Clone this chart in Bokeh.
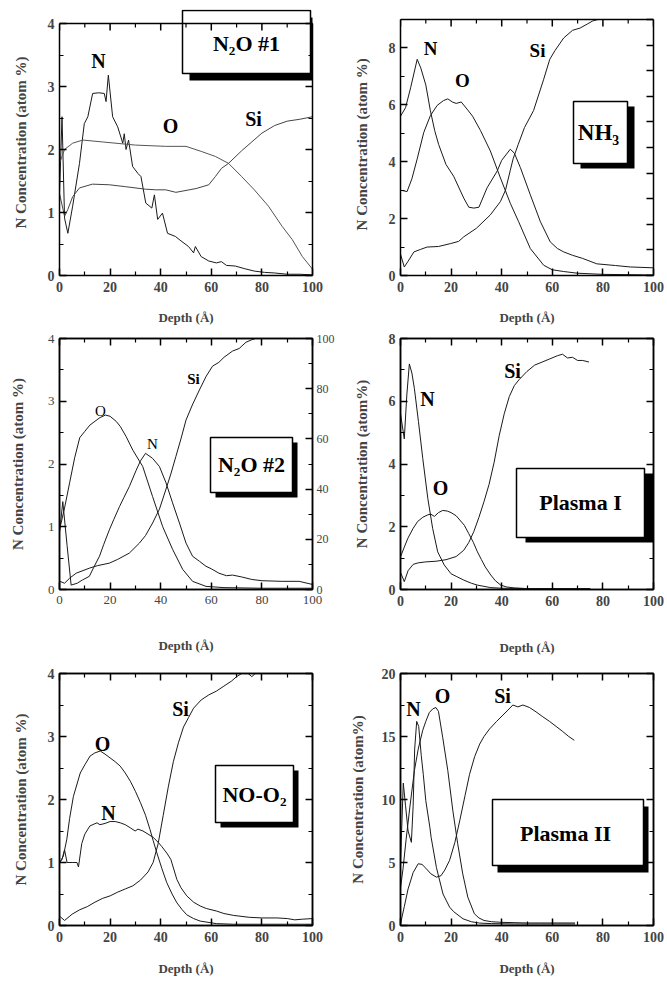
from bokeh.plotting import figure
from bokeh.models import Range1d, LinearAxis, FixedTicker, BoxAnnotation, Label, Span
from bokeh.layouts import column, row
from bokeh.embed import file_html
from bokeh.resources import INLINE

SERIF = "Liberation Serif"

# ---------------- data ----------------
depth_ticks = [0, 20, 40, 60, 80, 100]
depth_minor = [10, 30, 50, 70, 90]

# Panel 1: N2O #1  (y 0..4)
p1_n_x = [0, 1, 2, 3.3, 5.2, 7.9, 9.8, 11.2, 13.1, 15.5, 17.7, 18.4, 19.3, 21, 23, 25, 25.6, 26.3,
          27.3, 28.9, 31, 32.2, 34.1, 36.5, 37.5, 38.8, 40.7, 42.7, 45.8, 48, 51, 53, 53.7, 56, 59,
          62, 64, 66, 69.5, 73, 77, 81, 85, 90, 95, 100]
p1_n_y = [1.3, 2.52, 0.91, 0.67, 1.1, 1.78, 2.41, 2.52, 2.89, 2.9, 2.89, 2.76, 3.18, 2.52, 2.36, 2.1,
          2.25, 2.0, 2.15, 1.73, 1.62, 1.57, 1.15, 1.07, 1.28, 0.89, 0.99, 0.67, 0.62, 0.55, 0.46,
          0.36, 0.46, 0.3, 0.23, 0.2, 0.22, 0.16, 0.15, 0.11, 0.07, 0.05, 0.04, 0.02, 0.02, 0.01]
p1_o_x = [0, 2, 5.2, 9.2, 17, 30, 42, 50, 56, 61.6, 66.8, 72, 77, 82.6, 88, 92, 96, 100]
p1_o_y = [1.78, 2.0, 2.1, 2.15, 2.12, 2.07, 2.05, 2.05, 1.97, 1.89, 1.78, 1.57, 1.36, 1.1, 0.78,
          0.57, 0.3, 0.1]
p1_si_x = [0, 2, 3.3, 5.2, 7.9, 13, 19.7, 26, 34, 38, 42, 46, 50, 54, 59, 61.6, 64, 66.8, 72, 76,
           80, 85, 90, 95, 100]
p1_si_y = [1.3, 0.94, 1.05, 1.25, 1.39, 1.45, 1.44, 1.41, 1.37, 1.36, 1.36, 1.32, 1.35, 1.38, 1.44,
           1.57, 1.7, 1.78, 1.98, 2.12, 2.26, 2.38, 2.45, 2.48, 2.52]

# Panel 2: NH3  (y 0..9)
p2_n_x = [0, 2, 4, 6.6, 8, 10, 11.8, 13.5, 15.1, 18, 21, 25, 27, 29, 31, 34.2, 38.2, 40, 43.4, 45,
          47.4, 51.3, 55.3, 59.2, 62, 64.5, 68, 72, 77.6, 85, 90.8, 100]
p2_n_y = [5.6, 5.9, 6.6, 7.6, 7.3, 6.7, 5.8, 5.1, 4.6, 3.9, 3.49, 2.72, 2.4, 2.37, 2.4, 3.08, 3.67,
          4.05, 4.44, 4.3, 3.79, 2.84, 1.89, 1.18, 0.95, 0.83, 0.71, 0.6, 0.41, 0.35, 0.3, 0.27]
p2_o_x = [0, 2.6, 4.5, 6.6, 9.2, 11.8, 14.5, 17, 18.7, 20.5, 22, 24, 26.3, 28.5, 31.6, 35.5, 39.5,
          43.4, 46.7, 51.3, 56.6, 60, 64.5, 70, 80, 100]
p2_o_y = [3.0, 2.95, 3.4, 4.1, 5.03, 5.62, 5.98, 6.15, 6.21, 6.1, 6.05, 6.1, 5.85, 5.6, 5.1, 4.38,
          3.43, 2.54, 1.89, 0.95, 0.36, 0.2, 0.14, 0.08, 0.04, 0.02]
p2_si_x = [0, 1.5, 3, 5.3, 8, 10.5, 15, 19.7, 23, 25, 30, 35.5, 39.5, 41.5, 43.4, 44.5, 46.5, 49,
           52.6, 56.6, 59, 61, 64.5, 68, 71, 74, 76, 78]
p2_si_y = [0.75, 0.3, 0.5, 0.83, 0.92, 1.0, 1.02, 1.12, 1.2, 1.36, 1.66, 2.13, 2.6, 3.0, 3.7, 4.1,
           4.6, 5.2, 5.8, 6.9, 7.6, 7.9, 8.35, 8.62, 8.7, 8.85, 8.95, 9.0]

# Panel 3: N2O #2  (left 0..4, Si on right 0..100)
p3_n_x = [0, 1.3, 3, 4.6, 7, 9, 11.8, 13.5, 15.8, 17.5, 19.7, 21.5, 23.7, 25.5, 27.6, 30.3, 32, 34,
          36.8, 39.5, 42.1, 44.7, 47.4, 50, 52.6, 55.3, 57.9, 60, 63, 66, 68.4, 72, 76, 80, 88,
          94.7, 100]
p3_n_y = [0.9, 1.4, 0.7, 0.07, 0.1, 0.15, 0.21, 0.35, 0.53, 0.72, 0.95, 1.12, 1.32, 1.47, 1.64, 1.9,
          2.05, 2.17, 2.09, 1.96, 1.7, 1.38, 1.06, 0.74, 0.53, 0.45, 0.37, 0.33, 0.26, 0.22, 0.23,
          0.2, 0.16, 0.14, 0.13, 0.13, 0.08]
p3_o_x = [0, 2, 4, 6, 8, 10, 12, 14, 16, 18.2, 20, 22.4, 24, 26.3, 29, 32.9, 36.8, 40.8, 44.7, 48.7,
          52.6, 57.9, 65, 80, 100]
p3_o_y = [0.95, 1.3, 1.7, 2.1, 2.42, 2.52, 2.62, 2.68, 2.74, 2.78, 2.76, 2.68, 2.6, 2.44, 2.22, 1.96,
          1.48, 1.0, 0.64, 0.32, 0.13, 0.05, 0.03, 0.02, 0.02]
p3_si_x = [0, 2, 4, 6.6, 11.8, 15, 19.7, 23, 27.6, 31.6, 34, 36.8, 39.5, 42.1, 44, 46, 48, 50,
           52.5, 55.3, 58, 60.5, 63, 65, 68.4, 71, 73.7, 76, 79, 85, 100]
p3_si_y = [3.3, 2.5, 4.5, 6.5, 8.5, 9.5, 10.5, 12, 14.5, 18.5, 21.5, 26.5, 32, 40, 46, 53, 60, 67.5,
           73.5, 79.5, 85, 89, 90.5, 92.5, 95, 96, 98.5, 99.5, 100.5, 101, 102]

# Panel 4: Plasma I  (y 0..8)
p4_n_x = [0, 1.5, 2.5, 3.5, 4.5, 5.5, 7.1, 8.8, 10.8, 12.7, 14.7, 17.3, 20, 22, 25, 28, 30.4, 33,
          35.7, 40, 50, 60, 75]
p4_n_y = [5.6, 4.8, 6.2, 7.19, 6.9, 6.4, 5.35, 4.18, 2.9, 1.95, 1.2, 0.78, 0.5, 0.42, 0.3, 0.2,
          0.14, 0.1, 0.06, 0.04, 0.03, 0.03, 0.02]
p4_o_x = [0, 1.5, 2.9, 5, 6.8, 8.8, 10.8, 12, 13.4, 15, 16.7, 18.5, 20, 22, 25.2, 27, 28.8, 30.4,
          32, 33.5, 35.7, 37.5, 39.6, 42, 45, 50, 60, 75]
p4_o_y = [1.04, 1.35, 1.63, 1.95, 2.17, 2.3, 2.38, 2.4, 2.33, 2.45, 2.52, 2.5, 2.45, 2.35, 2.05,
          1.78, 1.5, 1.2, 0.95, 0.72, 0.46, 0.28, 0.14, 0.08, 0.05, 0.03, 0.03, 0.03]
p4_si_x = [0, 1.5, 3, 5, 7, 10, 14, 18, 22, 25, 27, 29, 31, 33, 35, 37, 39, 41, 43, 45, 47, 50, 53,
           56, 59, 62, 64, 66, 68, 70, 72, 74.5]
p4_si_y = [0.55, 0.25, 0.6, 0.8, 0.85, 0.88, 0.9, 0.95, 1.05, 1.25, 1.5, 1.85, 2.3, 2.8, 3.35, 4.05,
           4.9, 5.6, 6.15, 6.5, 6.7, 6.95, 7.15, 7.25, 7.35, 7.45, 7.5, 7.38, 7.4, 7.3, 7.3, 7.25]

# Panel 5: NO-O2  (y 0..4)
p5_n_x = [0, 1, 2, 3, 5, 6.9, 7.5, 8.8, 10, 12, 14.8, 16, 18, 20, 22, 24, 26, 28, 29.9, 31, 33,
          35, 37, 39, 40.5, 42.4, 44, 46.4, 48, 50.3, 53, 55.6, 58, 62, 65, 68.8, 75, 80, 86, 90,
          93, 96, 100]
p5_n_y = [1.0, 1.05, 1.2, 1.0, 1.0, 1.0, 0.93, 1.3, 1.45, 1.58, 1.63, 1.6, 1.62, 1.65, 1.65, 1.63,
          1.6, 1.55, 1.5, 1.53, 1.5, 1.45, 1.4, 1.32, 1.25, 1.15, 1.05, 0.73, 0.6, 0.47, 0.37, 0.31,
          0.27, 0.23, 0.19, 0.16, 0.13, 0.12, 0.12, 0.11, 0.09, 0.1, 0.11]
p5_o_x = [0, 1.5, 2.9, 4, 5.5, 8.2, 10, 12.1, 14, 16.1, 18, 20, 22, 24, 26, 28, 30, 32, 34, 35.8,
          37, 38.5, 40.5, 42.4, 44.5, 46.4, 48.5, 50.3, 53, 55.6, 62, 68.8, 80, 100]
p5_o_y = [0.99, 1.1, 1.37, 1.7, 2.05, 2.42, 2.55, 2.69, 2.74, 2.77, 2.72, 2.66, 2.6, 2.53, 2.42,
          2.29, 2.13, 1.95, 1.75, 1.52, 1.35, 1.15, 0.9, 0.68, 0.5, 0.36, 0.25, 0.17, 0.11, 0.07,
          0.03, 0.02, 0.02, 0.02]
p5_si_x = [0, 2, 5, 8, 11, 14, 17, 20, 23, 26, 29, 32, 35, 37, 39, 41, 43, 45, 47, 49, 51, 53, 56,
           59, 62, 65, 68, 70, 72, 74, 76, 78, 80, 90, 100]
p5_si_y = [0.15, 0.08, 0.18, 0.25, 0.3, 0.37, 0.43, 0.47, 0.53, 0.58, 0.63, 0.72, 0.85, 1.0, 1.3,
           1.75, 2.2, 2.6, 2.9, 3.15, 3.3, 3.45, 3.58, 3.66, 3.72, 3.8, 3.88, 3.95, 4.0, 4.02, 3.95,
           4.02, 4.08, 4.2, 4.25]

# Panel 6: Plasma II  (y 0..20)
p6_n_x = [0, 1.1, 2, 3, 4.3, 5, 5.6, 6.4, 7.2, 8.2, 9, 10, 11.6, 12.1, 14.2, 16.8, 19.4, 21, 24.7,
          28, 31.3, 36, 45, 55, 69]
p6_n_y = [5.0, 11.3, 9.5, 7.5, 6.6, 9.5, 14.0, 16.2, 15.8, 13.5, 12.0, 9.9, 7.8, 7.0, 4.6, 2.5,
          1.46, 1.1, 0.53, 0.3, 0.19, 0.15, 0.12, 0.12, 0.12]
p6_o_x = [0, 1, 2.2, 3.7, 5.5, 7, 8.8, 10, 11.4, 12.8, 14, 15, 16.7, 18.7, 20.7, 22.6, 24.6, 26.6,
          29.2, 31, 33, 36, 40, 50, 60, 69]
p6_o_y = [3.0, 4.5, 6.8, 9.4, 12.3, 14.0, 15.5, 16.2, 16.9, 17.2, 17.3, 17.0, 14.9, 12.3, 9.1, 6.5,
          4.1, 2.25, 0.93, 0.6, 0.4, 0.3, 0.25, 0.2, 0.2, 0.2]
p6_si_x = [0, 1.5, 3, 5, 7, 8.5, 10, 12, 14.2, 16, 17.5, 19.4, 21.5, 23.4, 25.5, 27.3, 29.3, 31.3,
           33, 35.2, 38, 40.5, 42.5, 44.4, 46.4, 48.4, 51, 53.6, 56, 58.9, 61.5, 64.1, 66.5, 68.7]
p6_si_y = [0.13, 1.5, 2.9, 4.2, 4.9, 4.85, 4.55, 4.1, 3.84, 3.95, 4.4, 5.17, 6.6, 8.3, 10.3, 12.0,
           13.4, 14.4, 15.0, 15.6, 16.2, 16.7, 17.1, 17.5, 17.35, 17.5, 17.3, 16.95, 16.6, 16.2,
           15.8, 15.4, 15.0, 14.7]

# ---------------- layout geometry (page pixels; page origin at 0,0) ----------------
# Plots in one row share top/bottom borders, plots in one column share left/right borders.
# "frame" = drawable area, "axis" = pixel rows of the plotted box (top, bottom).
GEOM = {
    "p1": dict(fig=(0, 0, 340, 328), frame=(59, 9, 312, 275), axis=(23, 275)),
    "p2": dict(fig=(340, 0, 325, 328), frame=(400, 9, 653, 275), axis=(19, 275)),
    "p3": dict(fig=(0, 328, 340, 330), frame=(59, 338, 312, 589), axis=(338, 589)),
    "p4": dict(fig=(340, 328, 325, 330), frame=(400, 338, 653, 589), axis=(338, 589)),
    "p5": dict(fig=(0, 658, 340, 321), frame=(59, 673, 312, 925), axis=(673, 925)),
    "p6": dict(fig=(340, 658, 325, 321), frame=(400, 673, 653, 925), axis=(673, 925)),
}
MAJOR_TICK_PX = 7
MINOR_TICK_PX = 4


def hide_labels(ax, ticks):
    ax.major_label_overrides = {t: "" for t in ticks}
    ax.major_label_text_font_size = "0px"
    ax.major_label_standoff = 0


def style_axis(ax, ticks, minor):
    ax.ticker = FixedTicker(ticks=ticks, minor_ticks=minor)
    ax.major_tick_in = MAJOR_TICK_PX
    ax.major_tick_out = 0
    ax.minor_tick_in = MINOR_TICK_PX
    ax.minor_tick_out = 0
    ax.axis_line_color = "black"
    ax.axis_line_width = 1.5
    ax.major_tick_line_color = "black"
    ax.major_tick_line_width = 1.5
    ax.minor_tick_line_color = "black"
    ax.minor_tick_line_width = 1.2


def stretch(key):
    """Ratio between the drawable frame height and the plotted box height."""
    l, t, r, b = GEOM[key]["frame"]
    at, ab = GEOM[key]["axis"]
    return (ab - t) / (ab - at)


def px_per_unit(key, ymax):
    at, ab = GEOM[key]["axis"]
    return (ab - at) / ymax


def make_panel(key, ymax, yticks, yminor, ytitle, ylab_so, xlab_so, tick_style="bold",
               tick_size="14px", right=None):
    g = GEOM[key]
    fx, fy, W, H = g["fig"]
    l, t, r, b = g["frame"]
    k = stretch(key)
    extended = k > 1 + 1e-9
    p = figure(width=W, height=H, x_range=Range1d(0, 100), y_range=Range1d(0, ymax * k),
               min_border_left=l - fx, min_border_right=fx + W - r,
               min_border_top=t - fy, min_border_bottom=fy + H - b,
               output_backend="svg", toolbar_location=None, tools="",
               outline_line_color=None if extended else "black", outline_line_width=1.5,
               background_fill_color="white", border_fill_color="white")
    p.xgrid.visible = False
    p.ygrid.visible = False

    xa = p.xaxis[0]
    style_axis(xa, depth_ticks, depth_minor)
    xa.axis_label = "Depth (Å)"
    xa.axis_label_text_font = SERIF
    xa.axis_label_text_font_style = "bold"
    xa.axis_label_text_font_size = "13px"
    xa.axis_label_standoff = xlab_so
    xa.major_label_text_font = SERIF
    xa.major_label_text_font_style = tick_style
    xa.major_label_text_font_size = tick_size
    xa.major_label_standoff = 6

    ya = p.yaxis[0]
    style_axis(ya, yticks, yminor)
    ya.axis_label = ytitle
    ya.axis_label_text_font = SERIF
    ya.axis_label_text_font_style = "bold"
    ya.axis_label_text_font_size = "15px"
    ya.axis_label_standoff = ylab_so
    ya.major_label_text_font = SERIF
    ya.major_label_text_font_style = tick_style
    ya.major_label_text_font_size = tick_size
    ya.major_label_standoff = 5
    if extended:
        ya.bounds = (0, ymax)

    if extended:
        # top border of the plotted box lies inside the (taller) frame
        p.add_layout(Span(location=ymax, dimension="width", line_color="black", line_width=1.5,
                          level="guide"))
        ppu = px_per_unit(key, ymax)
        p.segment(x0=depth_ticks, y0=[ymax] * len(depth_ticks), x1=depth_ticks,
                  y1=[ymax - MAJOR_TICK_PX / ppu] * len(depth_ticks),
                  line_color="black", line_width=1.5)
        p.segment(x0=depth_minor, y0=[ymax] * len(depth_minor), x1=depth_minor,
                  y1=[ymax - MINOR_TICK_PX / ppu] * len(depth_minor),
                  line_color="black", line_width=1.2)
    else:
        top = LinearAxis()
        style_axis(top, depth_ticks, depth_minor)
        hide_labels(top, depth_ticks)
        p.add_layout(top, "above")

    if right is None:
        ra = LinearAxis()
        style_axis(ra, yticks, yminor)
        hide_labels(ra, yticks)
        if extended:
            ra.bounds = (0, ymax)
    else:
        p.extra_y_ranges = {"r": Range1d(0, 100 * k)}
        rticks, rminor, show = right
        ra = LinearAxis(y_range_name="r")
        style_axis(ra, rticks, rminor)
        if extended:
            ra.bounds = (0, 100)
        if show:
            ra.major_label_text_font = SERIF
            ra.major_label_text_font_size = "12px"
            ra.major_label_standoff = 4
        else:
            hide_labels(ra, rticks)
    p.add_layout(ra, "right")
    return p


def to_data(key, ymax, px, py):
    l, t, r, b = GEOM[key]["frame"]
    at, ab = GEOM[key]["axis"]
    return (px - l) / (r - l) * 100.0, (ab - py) / (ab - at) * ymax


def add_box(p, key, ymax, box, shadow, text, center, size="22px", level="annotation"):
    x0, y0 = to_data(key, ymax, box[0], box[1])
    x1, y1 = to_data(key, ymax, box[2], box[3])
    sx0, sy0 = to_data(key, ymax, box[0] + shadow[0], box[1] + shadow[1])
    sx1, sy1 = to_data(key, ymax, box[2] + shadow[0], box[3] + shadow[1])
    p.add_layout(BoxAnnotation(left=sx0, right=sx1, top=sy0, bottom=sy1, fill_color="black",
                               fill_alpha=1.0, line_color=None, level=level))
    p.add_layout(BoxAnnotation(left=x0, right=x1, top=y0, bottom=y1, fill_color="white",
                               fill_alpha=1.0, line_color="black", line_alpha=1.0, line_width=1.5,
                               level=level))
    cx, cy = to_data(key, ymax, *center)
    p.add_layout(Label(x=cx, y=cy, text=text, text_font=SERIF, text_font_style="bold",
                       text_font_size=size, text_align="center", text_baseline="middle",
                       text_color="black"))


def add_tag(p, key, ymax, text, pos, size="20px", style="bold"):
    x, y = to_data(key, ymax, *pos)
    p.add_layout(Label(x=x, y=y, text=text, text_font=SERIF, text_font_style=style,
                       text_font_size=size, text_align="center", text_baseline="middle",
                       text_color="black"))


LC = "#1a1a1a"

# ---- Panel 1
p1 = make_panel("p1", 4, [0, 1, 2, 3, 4], [0.5, 1.5, 2.5, 3.5], "N Concentration (atom %)", 16, 15)
add_box(p1, "p1", 4, (182, 10, 310, 73), (7, 7), "N₂O #1", (246, 43), level="underlay")
p1.line(p1_n_x, p1_n_y, line_color=LC, line_width=1)
p1.line(p1_o_x, p1_o_y, line_color="#555555", line_width=1)
p1.line(p1_si_x, p1_si_y, line_color="#444444", line_width=1)
add_tag(p1, "p1", 4, "N", (98, 60))
add_tag(p1, "p1", 4, "O", (170, 125))
add_tag(p1, "p1", 4, "Si", (253, 118))

# ---- Panel 2
p2 = make_panel("p2", 9, [0, 2, 4, 6, 8], [1, 3, 5, 7, 9], "N Concentration (atom  %)", 16, 15,
                right=([0, 10, 20, 30, 40, 50, 60, 70, 80, 90, 100], [], False))
p2.line(p2_n_x, p2_n_y, line_color=LC, line_width=1)
p2.line(p2_o_x, p2_o_y, line_color=LC, line_width=1)
p2.line(p2_si_x, p2_si_y, line_color=LC, line_width=1)
add_box(p2, "p2", 9, (573, 101, 627, 163), (7, 5), "NH₃", (598, 132), size="23px")
add_tag(p2, "p2", 9, "N", (430, 48), size="19px")
add_tag(p2, "p2", 9, "O", (462, 80), size="19px")
add_tag(p2, "p2", 9, "Si", (537, 50), size="19px")

# ---- Panel 3
p3 = make_panel("p3", 4, [0, 1, 2, 3, 4], [0.5, 1.5, 2.5, 3.5], "N Concentration (atom %)", 19, 31,
                tick_style="normal", tick_size="13px",
                right=([0, 20, 40, 60, 80, 100], [10, 30, 50, 70, 90], True))
p3.line(p3_n_x, p3_n_y, line_color=LC, line_width=1)
p3.line(p3_o_x, p3_o_y, line_color=LC, line_width=1)
p3.line(p3_si_x, p3_si_y, line_color=LC, line_width=1, y_range_name="r")
add_box(p3, "p3", 4, (210, 437, 292, 492), (5, 5), "N₂O #2", (251, 464))
add_tag(p3, "p3", 4, "O", (100, 410), size="15px", style="normal")
add_tag(p3, "p3", 4, "N", (152, 443), size="15px", style="normal")
add_tag(p3, "p3", 4, "Si", (193, 378), size="15px")

# ---- Panel 4
p4 = make_panel("p4", 8, [0, 2, 4, 6, 8], [1, 3, 5, 7], "N Concentration (atom%)", 16, 31)
p4.line(p4_n_x, p4_n_y, line_color=LC, line_width=1)
p4.line(p4_o_x, p4_o_y, line_color=LC, line_width=1)
p4.line(p4_si_x, p4_si_y, line_color=LC, line_width=1)
add_box(p4, "p4", 8, (516, 468, 644, 537), (9, 5), "Plasma I", (580, 502))
add_tag(p4, "p4", 8, "N", (427, 398))
add_tag(p4, "p4", 8, "O", (440, 487))
add_tag(p4, "p4", 8, "Si", (512, 370))

# ---- Panel 5
p5 = make_panel("p5", 4, [0, 1, 2, 3, 4], [0.5, 1.5, 2.5, 3.5], "N Concentration (atom %)", 16, 16)
p5.line(p5_n_x, p5_n_y, line_color=LC, line_width=1)
p5.line(p5_o_x, p5_o_y, line_color=LC, line_width=1)
p5.line(p5_si_x, p5_si_y, line_color=LC, line_width=1)
add_box(p5, "p5", 4, (215, 765, 293, 822), (5, 5), "NO-O₂", (254, 794))
add_tag(p5, "p5", 4, "O", (102, 743))
add_tag(p5, "p5", 4, "N", (108, 812))
add_tag(p5, "p5", 4, "Si", (180, 708))

# ---- Panel 6
p6 = make_panel("p6", 20, [0, 5, 10, 15, 20], [2.5, 7.5, 12.5, 17.5], "N Concentration (atom%)", 13, 16)
p6.line(p6_n_x, p6_n_y, line_color=LC, line_width=1)
p6.line(p6_o_x, p6_o_y, line_color=LC, line_width=1)
p6.line(p6_si_x, p6_si_y, line_color=LC, line_width=1)
add_box(p6, "p6", 20, (492, 799, 643, 865), (5, 7), "Plasma II", (565, 833))
add_tag(p6, "p6", 20, "N", (413, 708))
add_tag(p6, "p6", 20, "O", (442, 695))
add_tag(p6, "p6", 20, "Si", (502, 695))

layout = column(row(p1, p2, spacing=0), row(p3, p4, spacing=0), row(p5, p6, spacing=0), spacing=0)

with open("out.html", "w") as f:
    f.write(file_html(layout, INLINE))
